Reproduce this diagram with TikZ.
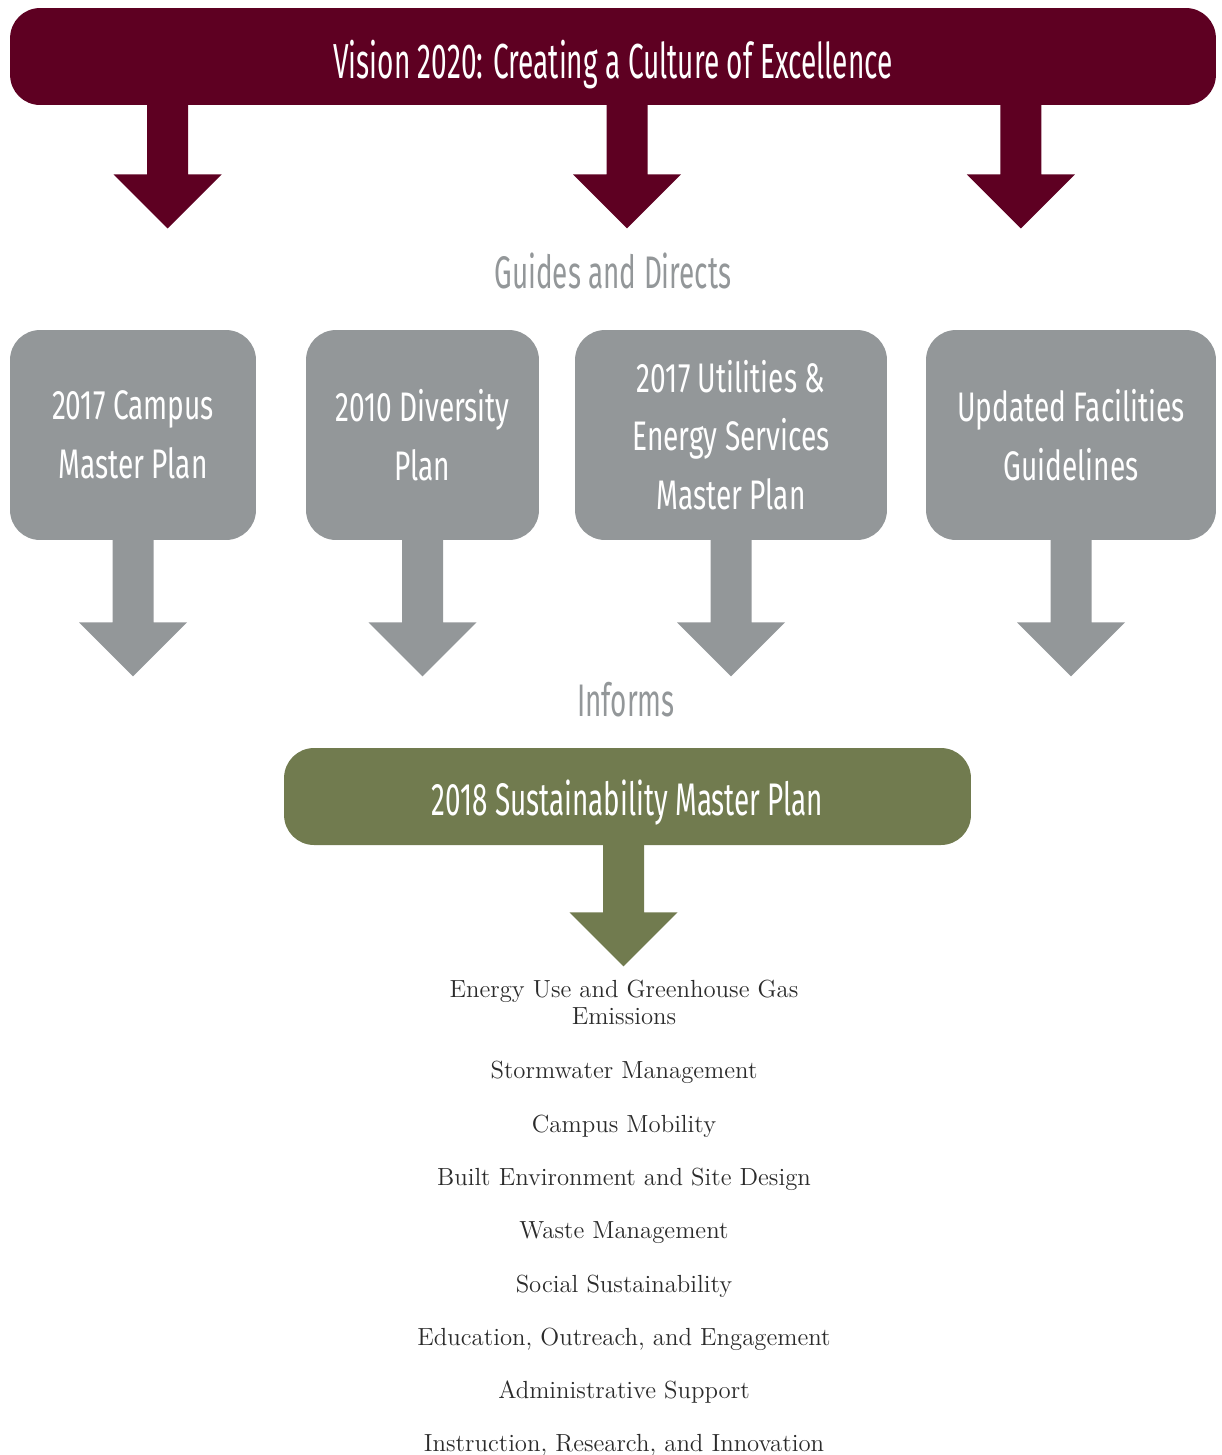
\documentclass[tikz,border=0pt]{standalone}
\usepackage{fontspec}
\usepackage{tikz}
\newfontfamily\titlefont[FakeStretch=0.57]{Fira Sans}
\newfontfamily\condfont[FakeStretch=0.61]{Fira Sans}
\newfontfamily\boxfont[FakeStretch=0.68]{Fira Sans}
\definecolor{visionred}{HTML}{5E0022}
\definecolor{plangray}{HTML}{939799}
\definecolor{sustgreen}{HTML}{717B4F}
\definecolor{itemgray}{HTML}{2B2B2B}

\begin{document}
\begin{tikzpicture}[x=0.02cm,y=-0.02cm,
    bigbox/.style={rounded corners=0.6cm,inner sep=0pt,text=white,minimum height=1.94cm,text depth=0pt},
    planbox/.style={rounded corners=0.6cm,fill=plangray,inner sep=0pt,text=white,align=center,minimum height=4.2cm,font=\boxfont\fontsize{23.5}{33.5}\selectfont},
    steptext/.style={text=plangray,font=\condfont\fontsize{26}{30}\selectfont},
    itemtext/.style={text=itemgray,align=center,font=\fontsize{14.1}{15.3}\selectfont}]
      \useasboundingbox (0,0) rectangle (1222,1455);
      \node[bigbox,fill=visionred,minimum width=24.12cm,text height=0.872cm,font=\titlefont\fontsize{28}{32}\selectfont] (vision) at (613,56.5) {Vision 2020: Creating a Culture of Excellence};
      \foreach \s in {-9.32,-0.13,7.75}
        \fill[visionred] ([xshift=\s cm,yshift=0.5pt]vision.south) -- ++(41,0) -- ++(0,70) -- ++(33.5,0) -- ++(-54,54) -- ++(-54,-54) -- ++(33.5,0) -- cycle;
      \node[steptext] (guides) at (613,271) {Guides and Directs};
      \node[planbox,minimum width=4.92cm] (campus) at (133,435) {2017 Campus\\Master Plan};
      \node[planbox,minimum width=4.66cm] (diversity) at (422.5,435) {2010 Diversity\\Plan};
      \node[planbox,minimum width=6.24cm] (utilities) at (731,435) {2017 Utilities \&\\Energy Services\\Master Plan};
      \node[planbox,minimum width=5.8cm] (facilities) at (1071,435) {Updated Facilities\\Guidelines};
      \foreach \b in {campus,diversity,utilities,facilities}
        \fill[plangray] ([xshift=-0.41cm,yshift=0.5pt]\b.south) -- ++(41,0) -- ++(0,83) -- ++(33.5,0) -- ++(-54,54) -- ++(-54,-54) -- ++(33.5,0) -- cycle;
      \node[steptext] (informs) at (626,700) {Informs};
      \node[bigbox,fill=sustgreen,minimum width=13.74cm,text height=0.74cm,font=\condfont\fontsize{26}{30}\selectfont] (plan) at (627.5,796.5) {2018 Sustainability Master Plan};
      \fill[sustgreen] ([xshift=-0.49cm,yshift=0.5pt]plan.south) -- ++(41,0) -- ++(0,68) -- ++(33.5,0) -- ++(-54,54) -- ++(-54,-54) -- ++(33.5,0) -- cycle;
      \foreach \y/\t [count=\i] in {1024/{Energy Use and Greenhouse Gas\\Emissions},{1078/Stormwater Management},{1132/Campus Mobility},{1185/Built Environment and Site Design},{1238/Waste Management},{1292/Social Sustainability},{1345/Education, Outreach, and Engagement},{1398/Administrative Support},{1451/Instruction, Research, and Innovation}}
        \node[itemtext,anchor=base] (item\i) at (624,\y) {\t};
\end{tikzpicture}
\end{document}
